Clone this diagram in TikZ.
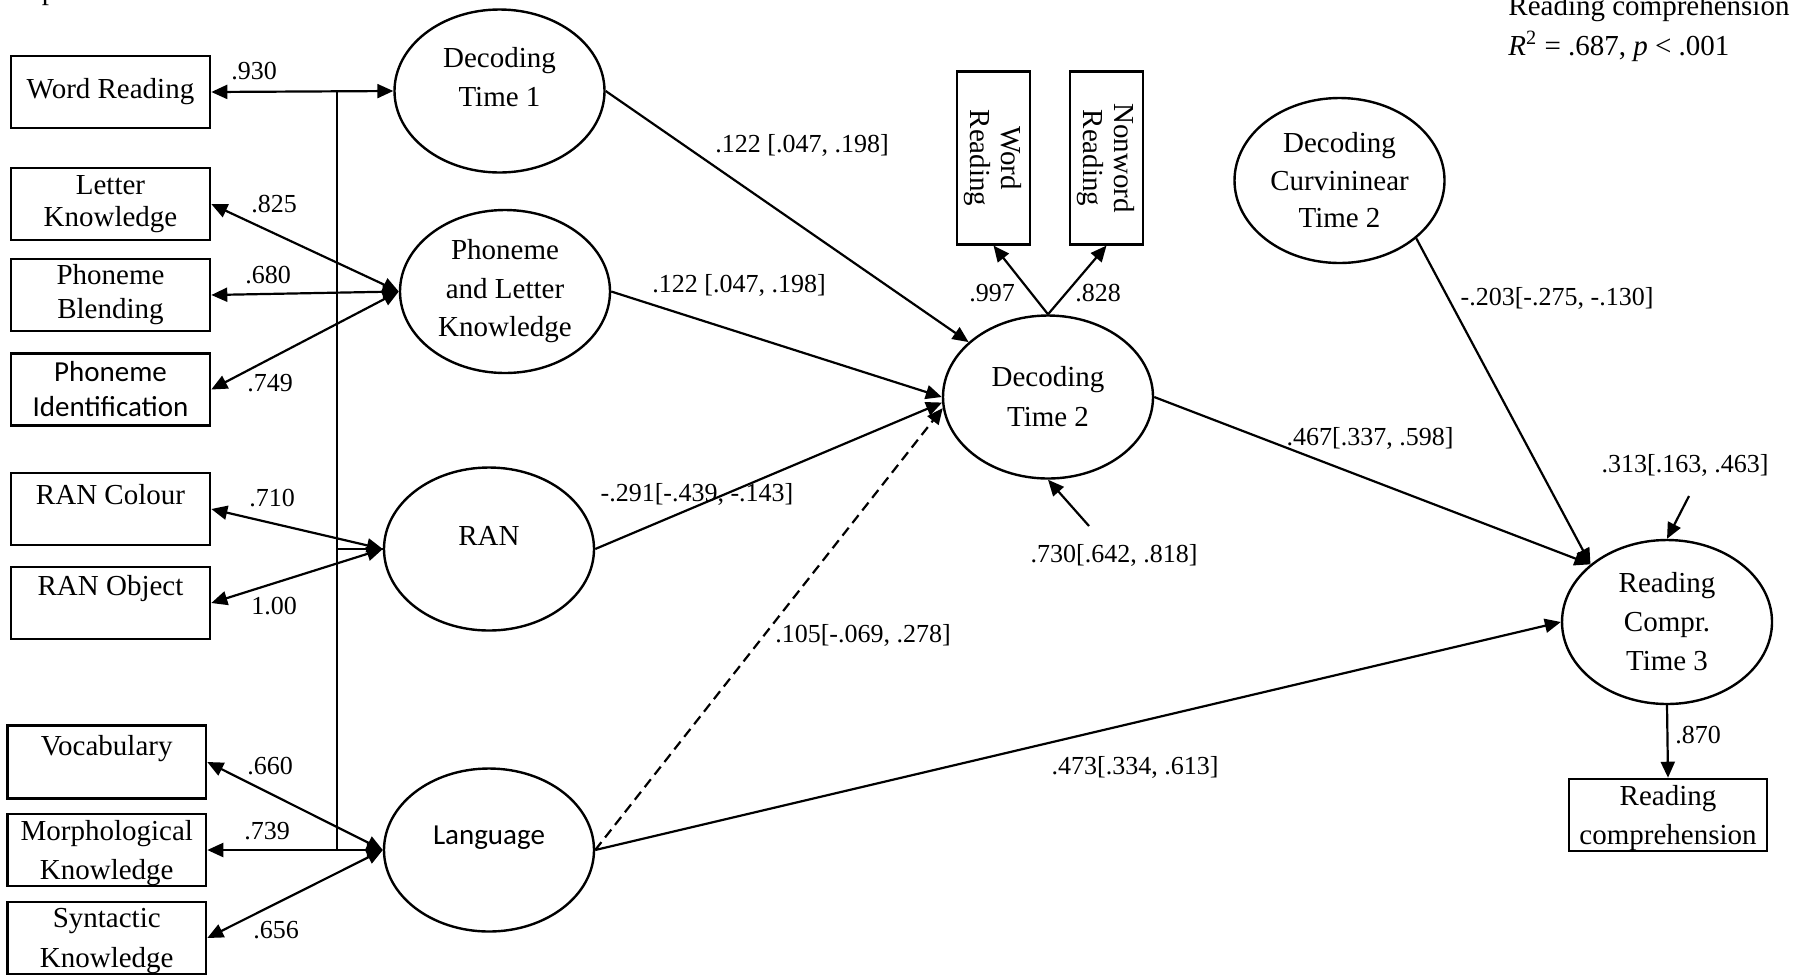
\documentclass[tikz,border=0pt]{standalone}
\usepackage{fontspec}
\setmainfont{Liberation Serif}
\newfontfamily\calibri{Carlito}
\usetikzlibrary{shapes.geometric,arrows.meta}
\begin{document}
\begin{tikzpicture}[x=0.5pt,y=-0.5pt,
  lat/.style={ellipse,draw,line width=1.2pt,minimum width=105pt,minimum height=81.5pt,inner sep=0pt},
  obs/.style={rectangle,draw,line width=1.3pt,inner sep=0pt,minimum width=99.5pt,minimum height=36pt},
  txt/.style={font=\fontsize{14.5}{19.5}\selectfont,align=center,inner sep=0pt},
  lbl/.style={font=\fontsize{13}{15}\selectfont,inner sep=0pt},
  arr/.style={line width=1.1pt,-{Triangle[length=8pt,width=7pt]}},
  biarr/.style={line width=1.1pt,{Triangle[length=8pt,width=7pt]}-{Triangle[length=8pt,width=7pt]}},
  thinline/.style={line width=0.9pt},
]
\useasboundingbox (0,0) rectangle (1807,976);

% cut-off glyph at the top
\node[txt,anchor=base] (pfrag) at (49,-1) {p};

% observed indicators (left)
\node[obs,txt] (wr1) at (110.5,92) {Word Reading};
\node[obs,txt,font=\fontsize{14.5}{16}\selectfont] (lk) at (110.5,204) {Letter\\Knowledge};
\node[obs,txt,font=\fontsize{14.5}{17}\selectfont] (pb) at (110.5,295) {Phoneme\\Blending};
\node[obs,txt,font=\calibri\fontsize{14.5}{17.5}\selectfont] (pi) at (110.5,389.5) {Phoneme\\Identification};
\node[obs] (rc) at (110.5,509) {};
\node[txt] (rct) at (110.5,494.5) {RAN Colour};
\node[obs] (ro) at (110.5,603) {};
\node[txt] (rot) at (110.5,588.5) {RAN Object};
\node[obs,minimum width=99.25pt,minimum height=36.3pt] (voc) at (106.75,762) {};
\node[txt] (voct) at (106.75,749) {Vocabulary};
\node[obs,minimum width=99.25pt] (mk) at (106.75,850) {};
\node[txt,font=\fontsize{14.5}{19.25}\selectfont] (mkt) at (106.75,853) {Morphological\\Knowledge};
\node[obs,minimum width=99.25pt] (sk) at (106.75,938) {};
\node[txt,font=\fontsize{14.5}{20}\selectfont] (skt) at (106.75,941) {Syntactic\\Knowledge};

% latent variables
\node[lat] (dt1) at (499.5,91) {};
\node[txt] (dt1t) at (499.5,77.5) {Decoding\\Time 1};
\node[lat] (plk) at (505,291.5) {};
\node[txt,font=\fontsize{14.5}{19.25}\selectfont] (plkt) at (505,291.5) {Phoneme\\and Letter\\Knowledge};
\node[lat] (ran) at (489,549) {};
\node[txt] (rant) at (489,536) {RAN};
\node[lat] (lang) at (489,850) {};
\node[txt,font=\calibri\fontsize{14.5}{19.5}\selectfont] (langt) at (489,838) {Language};
\node[lat] (dt2) at (1048,397) {};
\node[txt,font=\fontsize{14.5}{20}\selectfont] (dt2t) at (1048,397) {Decoding\\Time 2};
\node[lat,minimum height=82.5pt] (dct2) at (1339.5,180.5) {};
\node[txt,font=\fontsize{14.5}{18.75}\selectfont] (dct2t) at (1339.5,180.5) {Decoding\\Curvininear\\Time 2};
\node[lat,minimum height=82pt] (rc3) at (1667,622) {};
\node[txt,font=\fontsize{14.5}{19.5}\selectfont] (rc3t) at (1667,622) {Reading\\Compr.\\Time 3};

% observed indicators (right)
\node[obs,txt,minimum width=36.5pt,minimum height=86.25pt] (wr2) at (993.5,158) {\rotatebox{-90}{\begin{tabular}{@{}c@{}}Word\\[-4pt]Reading\end{tabular}}};
\node[obs,txt,minimum width=36.5pt,minimum height=86.25pt] (nwr) at (1106.5,158) {\rotatebox{-90}{\begin{tabular}{@{}c@{}}Nonword\\[-4pt]Reading\end{tabular}}};
\node[obs,minimum width=99pt,minimum height=36pt] (rcbox) at (1668,815) {};
\node[txt,font=\fontsize{14.5}{19.25}\selectfont] (rcboxt) at (1668,818) {Reading\\comprehension};

% header text
\node[txt,anchor=base west] (hdr1) at (1508,15) {Reading comprehension};
\node[txt,anchor=base west] (hdr2) at (1508,55) {\textit{R}\textsuperscript{2} = .687, \textit{p} < .001};

% free ends
\coordinate (vtop) at (337,92);
\coordinate (vmid) at (337,549);
\coordinate (vbot) at (337,851);
\coordinate (e1) at (1089,526);
\coordinate (e2) at (1689,496);

% measurement connectors
\draw[thinline] (vtop) -- (vbot);
\draw[thinline] (vmid) -- (ran.west);
\draw[biarr] (wr1.east) -- (dt1.west);
\draw[biarr] (plk.west) -- (lk.east);
\draw[biarr] (plk.west) -- (pb.east);
\draw[biarr] (plk.west) -- (pi.east);
\draw[biarr] (ran.west) -- (rc.east);
\draw[biarr] (ran.west) -- (ro.east);
\draw[biarr] (lang.west) -- (voc.east);
\draw[biarr] (lang.west) -- (mk.east);
\draw[biarr] (lang.west) -- (sk.east);

% structural paths
\draw[arr] (dt1.east) -- (dt2);
\draw[arr] (plk.east) -- (dt2.west);
\draw[arr] (ran.east) -- (dt2.183);
\draw[arr,dash pattern=on 5pt off 3pt] (lang.east) -- (dt2.186);
\draw[arr] (dt2.north) -- (wr2.south);
\draw[arr] (dt2.north) -- (nwr.south);
\draw[arr] (e1) -- (dt2.south);
\draw[arr] (dt2.east) -- (rc3.143);
\draw[arr] (dct2.323) -- (rc3.143);
\draw[arr] (lang.east) -- (rc3.west);
\draw[arr] (e2) -- (rc3.north);
\draw[arr] (rc3.south) -- (rcbox.north);

% labels
\node[lbl] (l930) at (254,71) {.930};
\node[lbl] (l825) at (274,204) {.825};
\node[lbl] (l680) at (268,275) {.680};
\node[lbl] (l749) at (270,383) {.749};
\node[lbl] (l710) at (272,498) {.710};
\node[lbl] (l100) at (274,606) {1.00};
\node[lbl] (l660) at (270,766) {.660};
\node[lbl] (l739) at (267,831) {.739};
\node[lbl] (l656) at (276,930) {.656};
\node[lbl] (lp1) at (802,145) {.122 [.047, .198]};
\node[lbl] (lp2) at (739,285) {.122 [.047, .198]};
\node[lbl] (lp3) at (697,494) {-.291[-.439, -.143]};
\node[lbl] (lp4) at (863,635) {.105[-.069, .278]};
\node[lbl] (l997) at (992,293) {.997};
\node[lbl] (l828) at (1098,293) {.828};
\node[lbl] (le1) at (1114,555) {.730[.642, .818]};
\node[lbl] (lp5) at (1370,438) {.467[.337, .598]};
\node[lbl] (lp6) at (1557,298) {-.203[-.275, -.130]};
\node[lbl] (le2) at (1685,465) {.313[.163, .463]};
\node[lbl] (l870) at (1698,735) {.870};
\node[lbl] (lp7) at (1135,767) {.473[.334, .613]};
\end{tikzpicture}
\end{document}
